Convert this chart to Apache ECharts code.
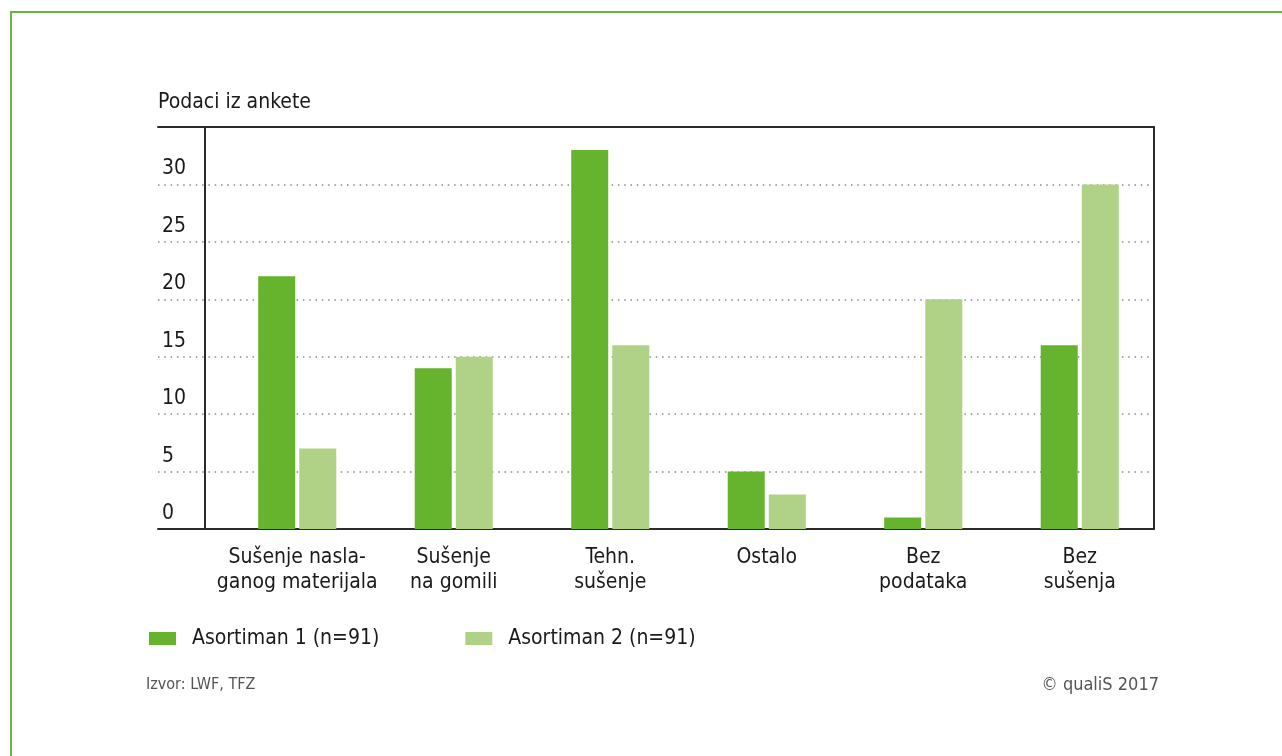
<!DOCTYPE html>
<html>
<head>
<meta charset="utf-8">
<script src="https://cdn.jsdelivr.net/npm/echarts@6/dist/echarts.min.js"></script>
<style>
  html, body { margin: 0; padding: 0; background: #fff; }
  #chart { width: 1282px; height: 756px; }
</style>
</head>
<body>
<div id="chart"></div>
<script>
// podaci iz ankete
var categories = ['Sušenje nasla-\nganog materijala', 'Sušenje\nna gomili', 'Tehn.\nsušenje', 'Ostalo', 'Bez\npodataka', 'Bez\nsušenja'];
var seriesNames = ['Asortiman 1 (n=91)', 'Asortiman 2 (n=91)'];
var asortiman1 = [22, 14, 33, 5, 1, 16];
var asortiman2 = [7, 15, 16, 3, 20, 30];
var yMin = 0, yMax = 35, yStep = 5;

var fontName = '"Liberation Sans Narrow", "DejaVu Sans Condensed", sans-serif';
var lineCol = '#2b2b2b';

var chart = echarts.init(document.getElementById('chart'));
var option = {
    animation: false,
    backgroundColor: '#fff',
    textStyle: { fontFamily: fontName },
    color: ['#66b32e', '#b0d286'],
    title: {
        text: 'Podaci iz ankete',
        left: 153,
        top: 87,
        textStyle: { fontFamily: fontName, fontSize: 21, fontWeight: 'normal', color: '#1a1a1a' }
    },
    legend: {
        left: 149,
        top: 628,
        padding: 0,
        itemWidth: 27,
        itemHeight: 13,
        itemGap: 86,
        icon: 'rect',
        data: seriesNames,
        textStyle: { fontFamily: fontName, fontSize: 21, color: '#1a1a1a', padding: [0, 0, 0, 11] }
    },
    grid: [
        // rahmen + linije mreze
        { left: 158, right: 128, top: 127, bottom: 227 },
        // stupci
        { left: 219, right: 124, top: 127, bottom: 227 }
    ],
    xAxis: [
        {
            gridIndex: 0, type: 'category', data: categories,
            axisLine: { show: true, lineStyle: { color: lineCol, width: 2 } },
            axisTick: { show: false }, axisLabel: { show: false }
        },
        {
            gridIndex: 0, type: 'category', data: categories, position: 'top',
            axisLine: { show: true, lineStyle: { color: lineCol, width: 2 } },
            axisTick: { show: false }, axisLabel: { show: false }
        },
        {
            gridIndex: 1, type: 'category', data: categories,
            axisLine: { show: false }, axisTick: { show: false },
            axisLabel: {
                interval: 0, margin: 16,
                fontFamily: fontName, fontSize: 21, lineHeight: 25, color: '#1a1a1a'
            }
        }
    ],
    yAxis: [
        {
            gridIndex: 0, type: 'value', min: yMin, max: yMax, interval: yStep, position: 'right',
            axisLine: { show: true, lineStyle: { color: lineCol, width: 2 } },
            axisTick: { show: false }, axisLabel: { show: false },
            splitLine: { show: true, lineStyle: { color: '#8a8a8a', width: 1.5, type: [1.5, 4.8] } }
        },
        {
            gridIndex: 1, type: 'value', min: yMin, max: yMax, interval: yStep, offset: 14,
            axisLine: { show: true, lineStyle: { color: lineCol, width: 2 } },
            axisTick: { show: false },
            splitLine: { show: false },
            axisLabel: {
                showMaxLabel: false,
                margin: 43, align: 'left', verticalAlign: 'bottom', padding: [0, 0, 5, 0],
                fontFamily: fontName, fontSize: 21, color: '#1a1a1a'
            }
        }
    ],
    graphic: [
        {
            type: 'polyline', silent: true,
            shape: { points: [[11, 756], [11, 12], [1282, 12]] },
            style: { fill: null, stroke: '#6cb33f', lineWidth: 2 }
        },
        {
            type: 'text', left: 146, top: 677,
            style: { text: 'Izvor: LWF, TFZ', font: '16px ' + fontName, fill: '#555' }
        },
        {
            type: 'text', right: 123, top: 676,
            style: { text: '© qualiS 2017', font: '18px ' + fontName, fill: '#555' }
        }
    ],
    series: [
        {
            name: seriesNames[0], type: 'bar', xAxisIndex: 2, yAxisIndex: 1,
            barWidth: 37, barGap: '11%', data: asortiman1
        },
        {
            name: seriesNames[1], type: 'bar', xAxisIndex: 2, yAxisIndex: 1,
            barWidth: 37, barGap: '11%', data: asortiman2
        }
    ]
};
chart.setOption(option);
</script>
</body>
</html>
